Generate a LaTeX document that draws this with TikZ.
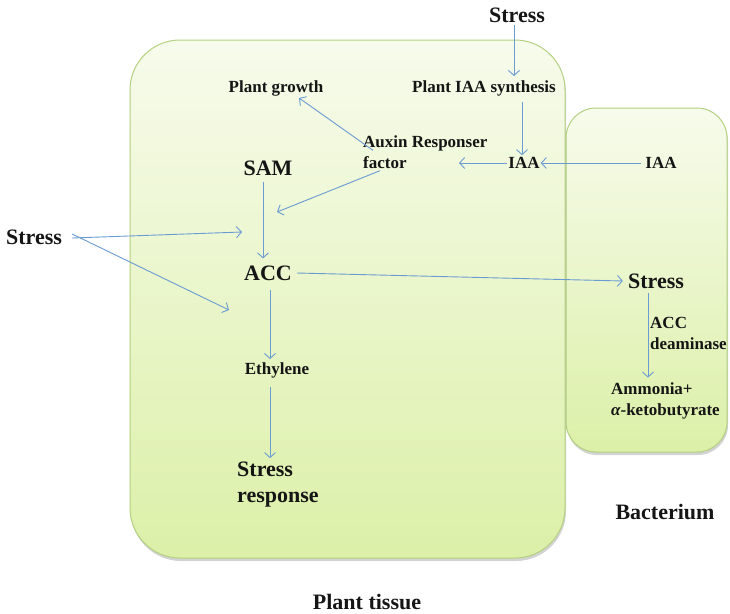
\documentclass[tikz,border=0pt]{standalone}
\usepackage{fontspec}
\setmainfont{Liberation Serif}
\usetikzlibrary{arrows.meta,shadows}
\definecolor{boxtop}{HTML}{F7FBEC}
\definecolor{boxbot}{HTML}{DCF0A8}
\definecolor{boxedge}{HTML}{B3D17F}
\definecolor{arr}{HTML}{6A9BD3}
\definecolor{txt}{HTML}{151515}
\tikzset{
  big/.style={font=\bfseries\fontsize{22}{26}\selectfont, text=txt, inner sep=1pt},
  mid/.style={font=\bfseries\fontsize{17}{21}\selectfont, text=txt, inner sep=1pt},
  conn/.style={draw=arr, line width=0.9pt, -{Straight Barb[length=5pt,width=11pt,line width=0.9pt]}},
  cell/.style={top color=boxtop, bottom color=boxbot, draw=boxedge, line width=1pt,
    drop shadow={opacity=0.35, shadow xshift=1pt, shadow yshift=-3pt}}
}
\begin{document}
\begin{tikzpicture}[x=1pt,y=-1pt]
\useasboundingbox (0,0) rectangle (730,613);
\clip (0,0) rectangle (730,613);
% boxes
\path[cell, rounded corners=30pt] (566,108) rectangle (727,452);
\path[cell, rounded corners=50pt] (130,40) rectangle (565,558);
% nodes
\node[big] (stressT) at (517,15) {Stress};
\node[mid] (pias) at (484,88) {Plant IAA synthesis};
\node[mid] (iaaP) at (524,163) {IAA};
\node[mid] (iaaB) at (661,163) {IAA};
\node[mid, align=left, anchor=west] (arf) at (362,152) {Auxin Responser\\factor};
\node[mid] (pg) at (276,88) {Plant growth};
\node[big] (sam) at (268,168) {SAM};
\node[big] (acc) at (268,273) {ACC};
\node[big] (stressL) at (34,237) {Stress};
\node[big] (stressR) at (656,281) {Stress};
\node[mid, align=left, anchor=west] (accd) at (649,333) {ACC\\deaminase};
\node[mid, align=left, anchor=west] (amm) at (610,401) {Ammonia+\\{\itshape α}-ketobutyrate};
\node[mid] (eth) at (277,370) {Ethylene};
\node[big, align=left, anchor=west] (sr) at (236,485) {Stress\\response};
\node[big] (bac) at (665,512) {Bacterium};
\node[big] (pt) at (367,602) {Plant tissue};
% free ends
\coordinate (arfIn) at (459,163);
\coordinate (accTop) at (277,212);
\coordinate (accL1) at (242,232);
\coordinate (accL2) at (229,310);
% connectors
\draw[conn] ([xshift=-3pt,yshift=-1pt]stressT.south) -- ([xshift=-3pt,yshift=3pt]stressT.south |- pias.north);
\draw[conn] ([xshift=-2pt]iaaP.north |- pias.south) ++(0,5) -- ([xshift=-2pt,yshift=1pt]iaaP.north);
\draw[conn] (iaaB.west) ++(-3,0) -- (iaaP.east);
\draw[conn] (iaaP.west) -- (arfIn);
\draw[conn] ([xshift=11pt,yshift=-16pt]arf.north west) -- ([xshift=23pt,yshift=-1pt]pg.south);
\draw[conn] ([xshift=18pt,yshift=-1pt]arf.south west) -- (accTop);
\draw[conn] ([xshift=-5pt,yshift=-5pt]sam.south) -- ([xshift=-5pt,yshift=6pt]acc.north);
\draw[conn] ([xshift=9pt,yshift=-1pt]stressL.east) -- (accL1);
\draw[conn] ([xshift=9pt,yshift=3pt]stressL.east) -- (accL2);
\draw[conn] ([xshift=4pt]acc.east) -- ([xshift=-4pt]stressR.west);
\draw[conn] ([xshift=-8pt,yshift=-3pt]stressR.south) -- ([xshift=-8pt,yshift=4pt]stressR.south |- amm.north);
\draw[conn] ([xshift=2pt,yshift=-8pt]acc.south) -- ([xshift=2pt,yshift=2pt]acc.south |- eth.north);
\draw[conn] ([xshift=-7pt,yshift=-8pt]eth.south) -- ([xshift=-7pt,yshift=3pt]eth.south |- sr.north);
\end{tikzpicture}
\end{document}
